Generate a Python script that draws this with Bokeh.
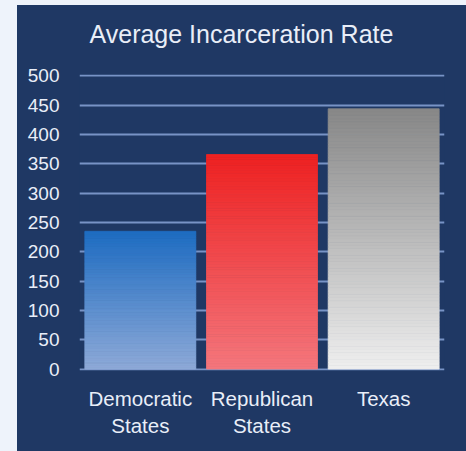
from bokeh.plotting import figure
from bokeh.models import FactorRange, Range1d, FixedTicker, Spacer, Title
from bokeh.layouts import row, column
from bokeh.embed import file_html
from bokeh.resources import INLINE

# ---- data ----
categories = ["Democratic\nStates", "Republican\nStates", "Texas"]
values = [235, 366, 444]
y_ticks = [0, 50, 100, 150, 200, 250, 300, 350, 400, 450, 500]
title_text = "Average Incarceration Rate"

# gradient colours per bar (top, bottom)
top_colors = ["#1f6dc2", "#ee2222", "#888888"]
bottom_colors = ["#8eaad8", "#f4767c", "#eeeeee"]

NAVY = "#1f3864"
LIGHT = "#e9eef8"
PAGE = "#eef3fb"
FONT = "Liberation Sans"


def hex2rgb(h):
    h = h.lstrip("#")
    return tuple(int(h[i:i + 2], 16) for i in (0, 2, 4))


def mix(c1, c2, t):
    a, b = hex2rgb(c1), hex2rgb(c2)
    return "#%02x%02x%02x" % tuple(round(a[i] + (b[i] - a[i]) * t) for i in range(3))


p = figure(
    title=None,
    x_range=FactorRange(factors=categories, range_padding=0),
    y_range=Range1d(-2.5, 502.5),
    width=449, height=446,
    output_backend="svg", toolbar_location=None,
    min_border_left=62, min_border_right=22, min_border_top=69, min_border_bottom=81,
    styles={"background-color": NAVY},
)
p.background_fill_color = NAVY
p.border_fill_color = NAVY
p.outline_line_color = None

# a blank panel between frame and title, then the title above it
p.add_layout(Title(text=" ", text_font_size="2px", standoff=23, text_color=NAVY), "above")
p.add_layout(Title(text=title_text, align="left", offset=10, standoff=0,
                   vertical_align="bottom",
                   text_font=FONT, text_font_size="25px", text_font_style="normal",
                   text_color=LIGHT), "above")

# gradient bars built as thin slices of each bar
N = 80
xs, bots, tops, cols = [], [], [], []
for cat, v, ct, cb in zip(categories, values, top_colors, bottom_colors):
    for k in range(N):
        t = k / (N - 1)
        xs.append(cat)
        bots.append(v * k / N)
        tops.append(v * (k + 1) / N)
        cols.append(mix(cb, ct, t))
p.vbar(x=xs, bottom=bots, top=tops, width=0.912, fill_color=cols,
       line_color=cols, line_width=0.8)

# axes
p.yaxis.ticker = FixedTicker(ticks=y_ticks)
p.yaxis.axis_line_color = None
p.yaxis.major_tick_line_color = None
p.yaxis.minor_tick_line_color = None
p.yaxis.major_tick_out = 0
p.yaxis.major_tick_in = 0
p.yaxis.major_label_standoff = 20
p.yaxis.major_label_text_font = FONT
p.yaxis.major_label_text_font_size = "19px"
p.yaxis.major_label_text_color = LIGHT

p.xaxis.axis_line_color = None
p.xaxis.major_tick_line_color = None
p.xaxis.minor_tick_line_color = None
p.xaxis.major_tick_out = 0
p.xaxis.major_tick_in = 0
p.xaxis.major_label_standoff = 16
p.xaxis.major_label_text_font = FONT
p.xaxis.major_label_text_font_size = "20.5px"
p.xaxis.major_label_text_color = LIGHT
p.xaxis.major_label_text_line_height = 1.2

p.xgrid.grid_line_color = None
p.ygrid.ticker = FixedTicker(ticks=y_ticks)
p.ygrid.grid_line_color = "#7893c6"
p.ygrid.grid_line_width = 2

top_strip = Spacer(width=466, height=5, styles={"background-color": PAGE})
left_strip = Spacer(width=17, height=446, styles={"background-color": PAGE})
layout = column(top_strip, row(left_strip, p))

open("out.html", "w").write(file_html(layout, INLINE))
